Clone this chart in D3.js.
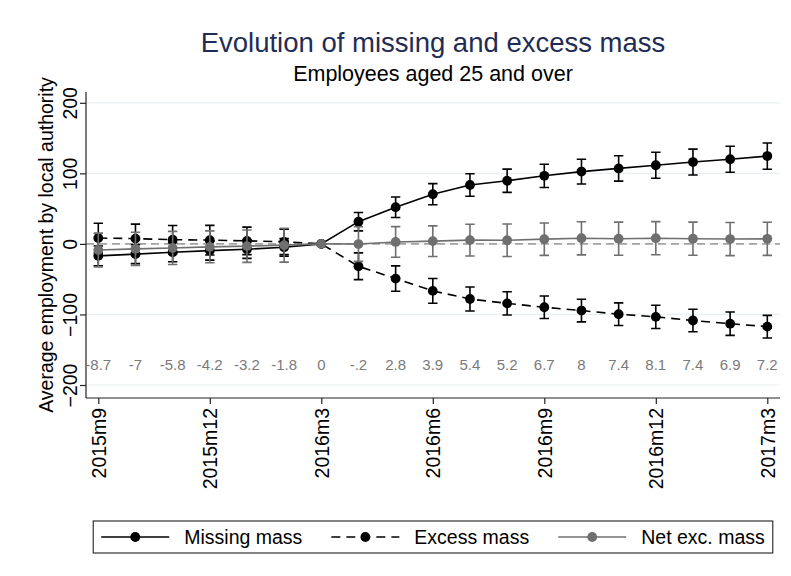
<!DOCTYPE html>
<html>
<head>
<meta charset="utf-8">
<script src="https://cdn.jsdelivr.net/npm/d3@7"></script>
<style>
  html, body { margin: 0; padding: 0; background: #fff; }
  svg { display: block; font-family: "Liberation Sans", Arial, Helvetica, sans-serif; }
</style>
</head>
<body>
<svg id="chart" width="791" height="576"></svg>
<script>
// Monthly periods, 2015m9 .. 2017m3
const periods = ["2015m9","2015m10","2015m11","2015m12","2016m1","2016m2","2016m3",
  "2016m4","2016m5","2016m6","2016m7","2016m8","2016m9","2016m10","2016m11","2016m12",
  "2017m1","2017m2","2017m3"];
const xTickLabels = ["2015m9","2015m12","2016m3","2016m6","2016m9","2016m12","2017m3"];
const yTicks = [-200, -100, 0, 100, 200];

// Point estimates
const missing = [-17, -14.5, -11.8, -9.5, -7.5, -4.8, 0, 31.5, 52, 70.5, 83.5, 89.5, 96.5, 102.5, 107, 111.5, 116, 120, 124.5];
const excess  = [8.3, 7.5, 6, 5.3, 4.3, 3, 0, -31.7, -49.2, -66.6, -78.1, -84.3, -89.8, -94.5, -99.6, -103.4, -108.6, -113.1, -117.3];
const netExc  = [-8.7, -7, -5.8, -4.2, -3.2, -1.8, 0, -0.2, 2.8, 3.9, 5.4, 5.2, 6.7, 8, 7.4, 8.1, 7.4, 6.9, 7.2];
const netLabels = ["-8.7","-7","-5.8","-4.2","-3.2","-1.8","0","-.2","2.8","3.9","5.4","5.2","6.7","8","7.4","8.1","7.4","6.9","7.2"];

// Half-widths of the 95% confidence intervals
const missingCI = [14, 13.5, 13.5, 13.5, 13, 12.5, 0, 13, 14.5, 15, 16, 16.5, 16.5, 17.5, 18, 18.4, 18.4, 18.4, 18.6];
const excessCI  = [21, 20.5, 20, 21, 19.5, 18, 0, 19, 18, 17.5, 17, 16.5, 16, 16, 16, 16.5, 16, 16.5, 16];
const netCI     = [24, 23.5, 23.5, 22.6, 23, 24, 0, 24.5, 21.7, 21.7, 22.5, 23, 23, 23.5, 23.5, 23.5, 23.5, 23.5, 23.5];

const labelLevel = -172;   // height at which the net values are printed

const svg = d3.select("#chart");
const W = 791, H = 576;
svg.append("rect").attr("width", W).attr("height", H).attr("fill", "#fff");

const plot = { left: 86, right: 780, top: 92, bottom: 398 };
const x = d3.scaleLinear().domain([0, periods.length - 1]).range([98.3, 767.3]);
const y = d3.scaleLinear().domain([-200, 200]).range([385, 102.8]);

const black = "#000000", grey = "#6f6f6f";
const labelFont = 19.5;

// Gridlines
svg.append("g").selectAll("line").data(yTicks).join("line")
  .attr("x1", plot.left).attr("x2", plot.right)
  .attr("y1", d => y(d)).attr("y2", d => y(d))
  .attr("stroke", "#e8eff2").attr("stroke-width", 1.2);

// Reference line at zero
svg.append("line")
  .attr("x1", plot.left).attr("x2", plot.right)
  .attr("y1", y(0)).attr("y2", y(0))
  .attr("stroke", "#a3a3a3").attr("stroke-width", 1.6)
  .attr("stroke-dasharray", "8,5");

// Y axis
const yAxis = d3.axisLeft(y).tickValues(yTicks).tickSize(6).tickFormat(d3.format("d"));
const gy = svg.append("g").attr("transform", `translate(${plot.left},0)`).call(yAxis);
gy.select(".domain").attr("d", `M0,${plot.top}V${plot.bottom}`).attr("stroke", "#222").attr("stroke-width", 1.2);
gy.selectAll(".tick line").attr("stroke", "#222").attr("stroke-width", 1.2);
gy.selectAll(".tick text")
  .attr("x", null).attr("dy", null)
  .attr("transform", "translate(-9,0) rotate(-90)")
  .attr("text-anchor", "middle")
  .attr("font-size", labelFont).attr("fill", "#000")
  .attr("font-family", "Liberation Sans, Arial, sans-serif");

// X axis
const xIdx = xTickLabels.map(l => periods.indexOf(l));
const xAxis = d3.axisBottom(x).tickValues(xIdx).tickSize(6).tickFormat(i => periods[i]);
const gx = svg.append("g").attr("transform", `translate(0,${plot.bottom})`).call(xAxis);
gx.select(".domain").attr("d", `M${plot.left},0H${plot.right}`).attr("stroke", "#222").attr("stroke-width", 1.2);
gx.selectAll(".tick line").attr("stroke", "#222").attr("stroke-width", 1.2);
gx.selectAll(".tick text")
  .attr("y", null).attr("dy", null)
  .attr("transform", "translate(7,10) rotate(-90)")
  .attr("text-anchor", "end")
  .attr("font-size", labelFont).attr("fill", "#000")
  .attr("font-family", "Liberation Sans, Arial, sans-serif");

// Axis title
svg.append("text")
  .attr("transform", `translate(53,${(plot.top + plot.bottom) / 2}) rotate(-90)`)
  .attr("text-anchor", "middle")
  .attr("font-size", labelFont).attr("fill", "#000")
  .text("Average employment by local authority");

// Titles
const cx = (plot.left + plot.right) / 2;
svg.append("text").attr("x", cx).attr("y", 52).attr("text-anchor", "middle")
  .attr("font-size", 27.5).attr("fill", "#1f2d55")
  .text("Evolution of missing and excess mass");
svg.append("text").attr("x", cx).attr("y", 81).attr("text-anchor", "middle")
  .attr("font-size", 21.5).attr("fill", "#000")
  .text("Employees aged 25 and over");

// Series
const series = [
  { name: "Missing mass", v: missing, ci: missingCI, color: black, dash: null },
  { name: "Excess mass", v: excess, ci: excessCI, color: black, dash: "9,6" },
  { name: "Net exc. mass", v: netExc, ci: netCI, color: grey, dash: null }
];
const capW = 4.7, r = 4.9;
const line = d3.line().x((d, i) => x(i)).y(d => y(d));

series.forEach(s => {
  const g = svg.append("g");
  const pts = s.v.map((v, i) => ({ i, v, ci: s.ci[i] })).filter(d => d.ci > 0);
  const eb = g.append("g").attr("stroke", s.color).attr("stroke-width", 1.6).attr("fill", "none");
  eb.selectAll("path").data(pts).join("path")
    .attr("d", d => {
      const xi = x(d.i), lo = y(d.v - d.ci), hi = y(d.v + d.ci);
      return `M${xi},${lo}V${hi}M${xi - capW},${hi}H${xi + capW}M${xi - capW},${lo}H${xi + capW}`;
    });
  g.append("path").datum(s.v).attr("d", line)
    .attr("fill", "none").attr("stroke", s.color).attr("stroke-width", 1.6)
    .attr("stroke-dasharray", s.dash);
  g.selectAll("circle").data(s.v).join("circle")
    .attr("cx", (d, i) => x(i)).attr("cy", d => y(d)).attr("r", r)
    .attr("fill", s.color);
});

// Net values printed along the bottom
svg.append("g").selectAll("text").data(netLabels).join("text")
  .attr("x", (d, i) => x(i)).attr("y", y(labelLevel)).attr("dy", "0.35em")
  .attr("text-anchor", "middle").attr("font-size", 15).attr("fill", "#7a7a7a")
  .text(d => d);

// Legend, centred under the plot region
const leg = svg.append("g");
const symW = 68, gapSym = 15, gapItem = 29, pad = 8;
const legY = 537;
const tmp = svg.append("text").attr("font-size", labelFont);
const widths = series.map(s => { tmp.text(s.name); return tmp.node().getComputedTextLength(); });
tmp.remove();
const total = pad * 2 + series.length * (symW + gapSym) + d3.sum(widths) + gapItem * (series.length - 1);
const lx = cx - total / 2;
leg.append("rect").attr("x", lx).attr("y", 521).attr("width", total).attr("height", 32)
  .attr("fill", "#fff").attr("stroke", "#333").attr("stroke-width", 1.2);
let cur = lx + pad;
series.forEach((s, k) => {
  leg.append("line").attr("x1", cur).attr("x2", cur + symW).attr("y1", legY).attr("y2", legY)
    .attr("stroke", s.color).attr("stroke-width", 1.6).attr("stroke-dasharray", s.dash);
  leg.append("circle").attr("cx", cur + symW / 2).attr("cy", legY).attr("r", r).attr("fill", s.color);
  cur += symW + gapSym;
  leg.append("text").attr("x", cur).attr("y", legY).attr("dy", "0.35em")
    .attr("font-size", labelFont).attr("fill", "#000").text(s.name);
  cur += widths[k] + gapItem;
});
</script>
</body>
</html>
